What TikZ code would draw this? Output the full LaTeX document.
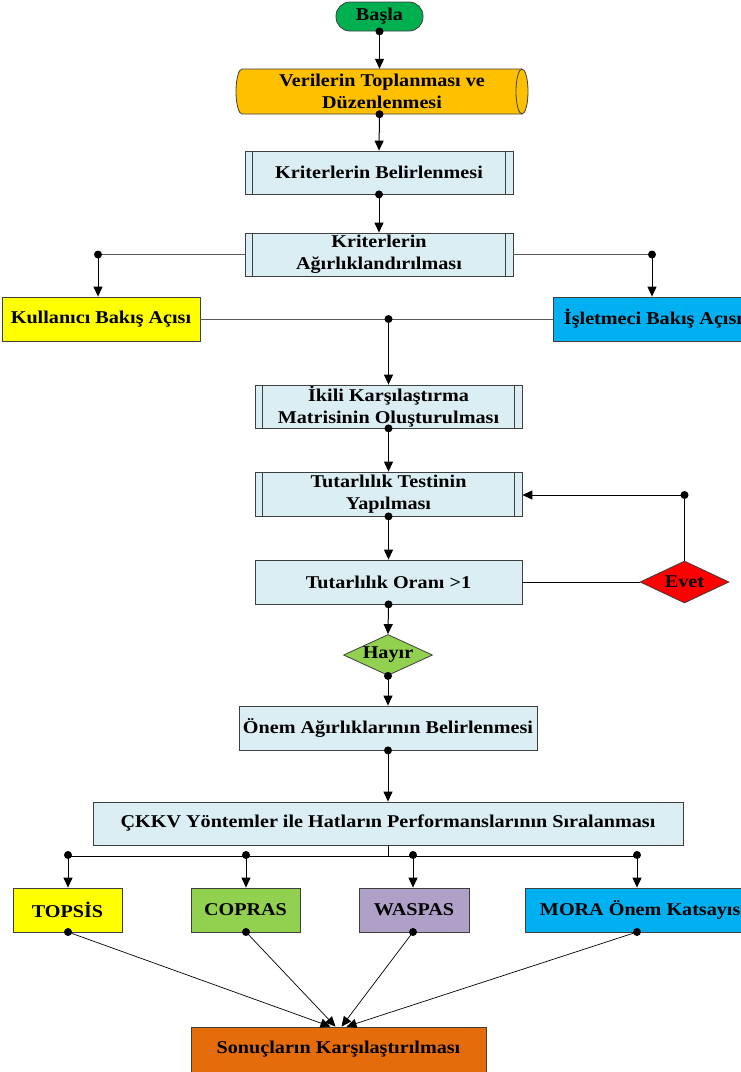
\documentclass[tikz,border=0pt]{standalone}
\usepackage{fontspec}
\setmainfont{Liberation Serif}[FakeStretch=1.12]
\usetikzlibrary{arrows.meta,shapes.geometric}
\definecolor{boxline}{HTML}{3F3F3F}
\definecolor{lblue}{HTML}{DAEEF3}
\definecolor{gstart}{HTML}{00B050}
\definecolor{vorange}{HTML}{FFC000}
\definecolor{kyellow}{HTML}{FFFF00}
\definecolor{iblue}{HTML}{00B0F0}
\definecolor{ered}{HTML}{FF0000}
\definecolor{hgreen}{HTML}{92D050}
\definecolor{wpurple}{HTML}{AFA0C8}
\definecolor{sorange}{HTML}{E46C0A}
\definecolor{glinec}{HTML}{595959}
\begin{document}
\begin{tikzpicture}[x=1pt,y=-1pt,
  txt/.style={font=\bfseries\fontsize{18}{22}\selectfont, align=center, inner sep=0pt},
  box/.style={txt, draw=boxline, line width=0.8pt, fill=lblue},
  term/.style={txt, draw=boxline, line width=0.8pt, fill=gstart, rounded corners=14pt, minimum width=87pt, minimum height=29pt},
  dia/.style={txt, diamond, aspect=2, draw=boxline, line width=0.8pt, minimum width=89pt, minimum height=42pt},
  arr/.style={-{Triangle[length=10pt,width=9pt]}, line width=1pt, black},
  gl/.style={line width=1pt, glinec},
  bl/.style={line width=1pt, black},
  dot/.style={black}
]
\useasboundingbox (0,0) rectangle (741,1072);

% start
\node[term] (basla) at (379.5,16.5) {Başla};

% cylinder
\filldraw[fill=vorange, draw=boxline, line width=0.8pt]
  (242,69) -- (522,69) arc[start angle=-90, end angle=90, x radius=6, y radius=22.5]
  -- (242,114) arc[start angle=90, end angle=270, x radius=6, y radius=22.5] -- cycle;
\draw[boxline, line width=0.8pt] (522,69) arc[start angle=270, end angle=90, x radius=6, y radius=22.5];
\node[txt, minimum width=292pt, minimum height=45pt] (ver) at (382,91.5) {Verilerin Toplanması ve\\Düzenlenmesi};

% predefined processes
\node[box, minimum width=268pt, minimum height=43pt] (krit) at (379,172.5) {Kriterlerin Belirlenmesi};
\node[box, minimum width=268pt, minimum height=43pt] (agir) at (379,254.5) {Kriterlerin\\Ağırlıklandırılması};
\node[box, minimum width=267pt, minimum height=43pt] (ikili) at (388.5,406.5) {İkili Karşılaştırma\\Matrisinin Oluşturulması};
\node[box, minimum width=267pt, minimum height=44pt] (test) at (388.5,494) {Tutarlılık Testinin\\Yapılması};
\foreach \n in {krit,agir,ikili,test}{
  \draw[boxline, line width=0.8pt] ([xshift=8pt]\n.north west) -- ([xshift=8pt]\n.south west);
  \draw[boxline, line width=0.8pt] ([xshift=-8pt]\n.north east) -- ([xshift=-8pt]\n.south east);
}

% viewpoints
\node[box, fill=kyellow, minimum width=198pt, minimum height=44pt] (kul) at (101,319) {Kullanıcı Bakış Açısı};
\node[box, fill=iblue, minimum width=200pt, minimum height=44pt] (isl) at (653,319) {İşletmeci Bakış Açısı};

\node[box, minimum width=267pt, minimum height=44pt] (oran) at (388.5,582) {Tutarlılık Oranı >1};
\node[dia, fill=ered] (evet) at (684.5,582) {Evet};
\node[dia, fill=hgreen, minimum height=41pt] (hayir) at (388,655) {Hayır};
\node[box, minimum width=298pt, minimum height=44pt] (onem) at (388,728) {Önem Ağırlıklarının Belirlenmesi};
\node[box, minimum width=590pt, minimum height=43pt] (ckkv) at (388,823.5) {ÇKKV Yöntemler ile Hatların Performanslarının Sıralanması};

\node[box, fill=kyellow, minimum width=109pt, minimum height=44pt] (tops) at (67.5,910) {TOPSİS};
\node[box, fill=hgreen, minimum width=109pt, minimum height=44pt] (copr) at (245.5,910) {COPRAS};
\node[box, fill=wpurple, minimum width=110pt, minimum height=44pt] (wasp) at (414,910) {WASPAS};
\node[box, fill=iblue, minimum width=236pt, minimum height=44pt] (mora) at (643,910) {MORA Önem Katsayısı};
\node[box, fill=sorange, minimum width=295pt, minimum height=45pt] (sonuc) at (338.5,1049.5) {Sonuçların Karşılaştırılması};

% connectors top
\coordinate (vb) at (basla.south |- ver.south);
\draw[arr] (basla.south) -- (ver.north -| basla.south);
\fill[dot] (basla.south) circle (4pt);
\draw[arr] (vb) -- (krit.north);
\fill[dot] (vb) circle (4pt);
\draw[arr] (krit.south) -- (agir.north);
\fill[dot] (krit.south) circle (4pt);

% to viewpoints
\coordinate (kd) at (98,254.5);
\coordinate (id) at (652,254.5);
\draw[gl] (agir.west) -- (kd);
\draw[gl] (agir.east) -- (id);
\draw[arr] (kd) -- (kd |- kul.north);
\draw[arr] (id) -- (id |- isl.north);
\fill[dot] (kd) circle (4pt);
\fill[dot] (id) circle (4pt);

\coordinate (md) at (388.5,319);
\draw[gl] (kul.east) -- (isl.west);
\draw[arr] (md) -- (ikili.north);
\fill[dot] (md) circle (4pt);

\draw[arr] (ikili.south) -- (test.north);
\fill[dot] (ikili.south) circle (4pt);
\draw[arr] (test.south) -- (oran.north);
\fill[dot] (test.south) circle (4pt);

% loop
\coordinate (ed) at (684.5,495);
\draw[bl] (oran.east) -- (evet.west);
\draw[bl] (evet.north) -- (ed);
\draw[arr] (ed) -- (test.east |- ed);
\fill[dot] (ed) circle (4pt);

\draw[arr] (oran.south) -- (hayir.north);
\fill[dot] (oran.south) circle (4pt);
\draw[arr] (hayir.south) -- (onem.north);
\fill[dot] (hayir.south) circle (4pt);
\draw[arr] (onem.south) -- (ckkv.north);
\fill[dot] (onem.south) circle (4pt);

% branch to methods
\coordinate (cj) at (388,856);
\coordinate (b1) at (68,855);
\coordinate (b2) at (246,855);
\coordinate (b3) at (413,855);
\coordinate (b4) at (637,855);
\draw[bl] (ckkv.south) -- (cj);
\draw[bl] (b1 |- cj) -- (b4 |- cj);
\foreach \b/\t in {b1/tops,b2/copr,b3/wasp,b4/mora}{
  \draw[arr] (\b) -- (\b |- \t.north);
  \fill[dot] (\b) circle (4pt);
}

% converge to results
\coordinate (s1) at (68,932);
\coordinate (s2) at (246,932);
\coordinate (s3) at (413,932);
\coordinate (s4) at (637,932);
\draw[arr, line width=0.7pt] (s1) -- ([xshift=-8pt]sonuc.north);
\draw[arr, line width=0.7pt] (s2) -- ([xshift=-3pt]sonuc.north);
\draw[arr, line width=0.7pt] (s3) -- ([xshift=3pt]sonuc.north);
\draw[arr, line width=0.7pt] (s4) -- ([xshift=8pt]sonuc.north);
\foreach \s in {s1,s2,s3,s4}{\fill[dot] (\s) circle (4pt);}
\end{tikzpicture}
\end{document}
